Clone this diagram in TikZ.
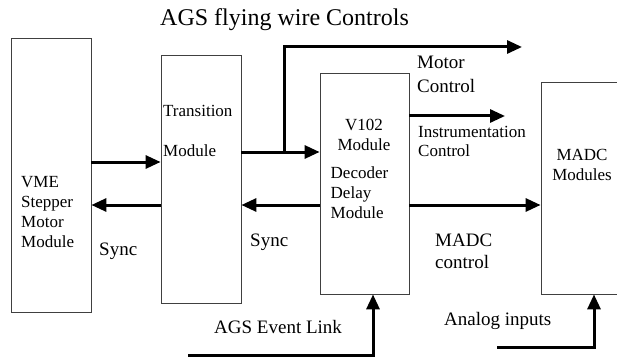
\documentclass[tikz,border=0pt]{standalone}
\usepackage{fontspec}
\setmainfont{Liberation Serif}
\usetikzlibrary{arrows.meta, positioning, calc}

\begin{document}
\begin{tikzpicture}[
    x=1pt, y=-1pt,
    box/.style={draw=black!75, line width=0.8pt, inner sep=0pt},
    sig/.style={line width=3pt, -{Triangle[length=15pt, width=13pt]}},
    lbl/.style={inner sep=0pt, anchor=base west, align=left,
                font=\fontsize{17}{20}\selectfont},
    big/.style={lbl, font=\fontsize{19}{22}\selectfont},
  ]
  \useasboundingbox (0,0) rectangle (617,358);
  \clip (0,0) rectangle (617,358);

  \node[inner sep=0pt, anchor=base west, font=\fontsize{24}{28}\selectfont]
    (title) at (160,26) {AGS flying wire Controls};

  % modules
  \node[box, minimum width=80pt, minimum height=274pt] (vme) at (51,175) {};
  \node[box, minimum width=80pt, minimum height=248pt] (trans) at (201,179) {};
  \node[box, minimum width=89pt, minimum height=221pt] (v102) at (364.5,183.5) {};
  \node[box, minimum width=100pt, minimum height=212pt] (madc) at (591,188) {};

  % multi-line texts sit on the baseline of their last line
  \node[lbl] (vmetxt) at (21,247) {VME\\Stepper\\Motor\\Module};
  \node[lbl, font=\fontsize{17}{40}\selectfont] (transtxt) at (163,156.5)
    {Transition\\Module};
  \node[lbl, anchor=base, align=center] (v102txt) at (364,150.5) {V102\\Module};
  \node[lbl] (dectxt) at (330.5,218) {Decoder\\Delay\\Module};
  \node[lbl, anchor=base, align=center] (madctxt) at (582,180) {MADC\\Modules};

  % signals
  \coordinate (split) at (284,152);
  \coordinate (motorend) at (522,47);
  \coordinate (instrend) at (505,116);
  \coordinate (evt) at (188,355);
  \coordinate (ana) at (497,347);

  \draw[sig] (vme.east |- 0,162) -- (trans.west |- 0,162);
  \draw[sig] (trans.west |- 0,205) -- (vme.east |- 0,205);
  \draw[sig] (trans.east |- split) -- (v102.west |- split);
  \draw[sig] (v102.west |- 0,205) -- (trans.east |- 0,205);
  \draw[sig] (split) |- (motorend);
  \draw[sig] (v102.east |- instrend) -- (instrend);
  \draw[sig] (v102.east |- 0,205) -- (madc.west |- 0,205);
  \draw[sig] (evt) -| ([xshift=8.5pt]v102.south);
  \draw[sig] (ana) -| ([xshift=3pt]madc.south);

  \node[big, font=\fontsize{19}{24}\selectfont] (motortxt) at (417,93)
    {Motor\\Control};
  \node[lbl, font=\fontsize{17}{19.5}\selectfont] (instrtxt) at (418,157)
    {Instrumentation\\Control};
  \node[big] (sync1) at (99,255) {Sync};
  \node[big] (sync2) at (250,246) {Sync};
  \node[big] (madcctl) at (435,268) {MADC\\control};
  \node[big] (evttxt) at (214,333) {AGS Event Link};
  \node[big] (anatxt) at (444,325) {Analog inputs};
\end{tikzpicture}
\end{document}
